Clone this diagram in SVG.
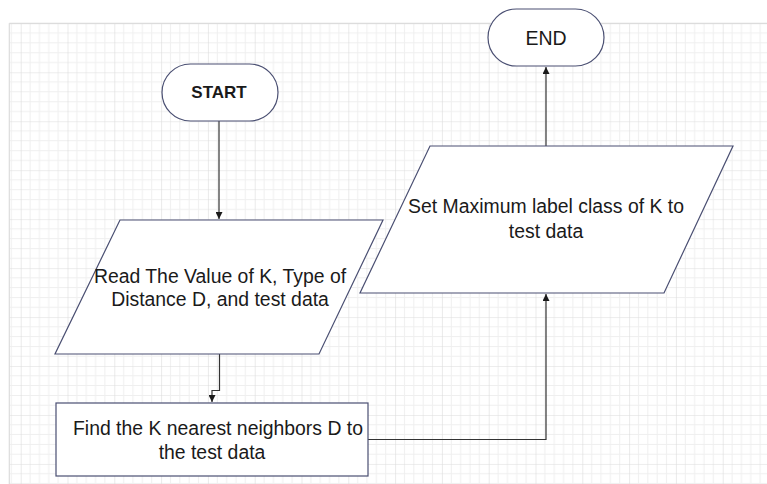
<svg xmlns="http://www.w3.org/2000/svg" width="767" height="484" viewBox="0 0 767 484">
  <style>
    .shape { fill: #ffffff; stroke: #4a4f72; stroke-width: 1.2; }
    .conn { fill: none; stroke: #333333; stroke-width: 1.2; }
    .label { font-family: "Liberation Sans", Arial, sans-serif; font-size: 19.4px; fill: #1a1a1a; text-anchor: middle; }
    .term { font-family: "Liberation Sans", Arial, sans-serif; fill: #1a1a1a; text-anchor: middle; }
  </style>
  <defs>
    <pattern id="grid" patternUnits="userSpaceOnUse" x="20.7" y="23.3" width="46.8" height="48.96">
      <g stroke="#efefef" stroke-width="1">
        <line x1="9.36" y1="0" x2="9.36" y2="48.96"/>
        <line x1="18.72" y1="0" x2="18.72" y2="48.96"/>
        <line x1="28.08" y1="0" x2="28.08" y2="48.96"/>
        <line x1="37.44" y1="0" x2="37.44" y2="48.96"/>
        <line x1="0" y1="9.79" x2="46.8" y2="9.79"/>
        <line x1="0" y1="19.58" x2="46.8" y2="19.58"/>
        <line x1="0" y1="29.38" x2="46.8" y2="29.38"/>
        <line x1="0" y1="39.17" x2="46.8" y2="39.17"/>
      </g>
      <g stroke="#dcdcdc" stroke-width="1.2">
        <line x1="0" y1="0" x2="0" y2="48.96"/>
        <line x1="0" y1="0" x2="46.8" y2="0"/>
      </g>
    </pattern>
    <marker id="arrow" viewBox="0 0 10 10" refX="10" refY="5" markerWidth="7" markerHeight="7" markerUnits="userSpaceOnUse" orient="auto">
      <path d="M0,0 L10,5 L0,10 z" fill="#1a1a1a"/>
    </marker>
  </defs>

  <!-- background and drawing grid -->
  <rect x="0" y="0" width="767" height="484" fill="#ffffff"/>
  <rect x="9.3" y="23.3" width="760" height="465" fill="url(#grid)"/>
  <line x1="9.3" y1="23.3" x2="767" y2="23.3" stroke="#dcdcdc" stroke-width="1.2"/>
  <line x1="9.3" y1="23.3" x2="9.3" y2="484" stroke="#dcdcdc" stroke-width="1.2"/>

  <!-- connectors -->
  <g id="connectors">
    <path class="conn" d="M219,121 V219" marker-end="url(#arrow)"/>
    <path class="conn" d="M219.5,354 V390.5 H212 V402" marker-end="url(#arrow)"/>
    <path class="conn" d="M368,439.5 H546 V294" marker-end="url(#arrow)"/>
    <path class="conn" d="M546,146 V67" marker-end="url(#arrow)"/>
  </g>

  <!-- START terminator -->
  <g id="start">
    <rect class="shape" x="162" y="64" width="116" height="57" rx="28.5" ry="28.5"/>
    <text class="term" x="219" y="98" font-size="17" font-weight="bold">START</text>
  </g>

  <!-- input: K, distance and test data -->
  <g id="read-input">
    <polygon class="shape" points="120,220 383,220 319,354 55,354"/>
    <text class="label" x="220" y="283">Read The Value of K, Type of</text>
    <text class="label" x="220" y="306">Distance D, and test data</text>
  </g>

  <!-- process: nearest neighbours -->
  <g id="find-neighbors">
    <rect class="shape" x="56" y="403" width="312" height="73"/>
    <text class="label" x="218" y="435" font-size="20.4">Find the K nearest neighbors D to</text>
    <text class="label" x="212" y="459" font-size="20.4">the test data</text>
  </g>

  <!-- output: majority class -->
  <g id="set-label">
    <polygon class="shape" points="430,146 733,146 664,293 360,293"/>
    <text class="label" x="546" y="213">Set Maximum label class of K to</text>
    <text class="label" x="546" y="238">test data</text>
  </g>

  <!-- END terminator -->
  <g id="end">
    <rect class="shape" x="488" y="9" width="116" height="57" rx="28.5" ry="28.5"/>
    <text class="term" x="546" y="45" font-size="19.5">END</text>
  </g>
</svg>
